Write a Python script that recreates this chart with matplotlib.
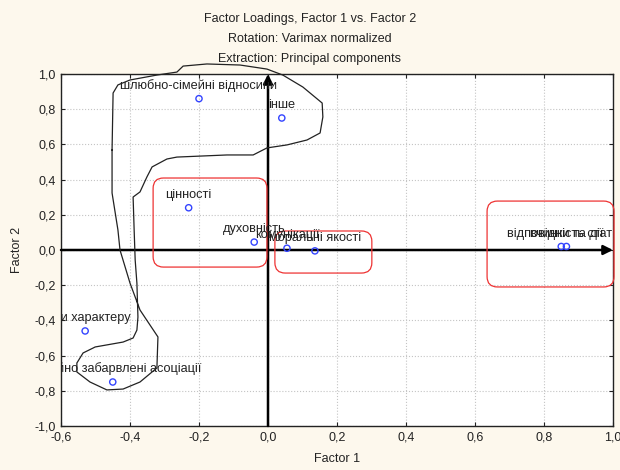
import matplotlib
matplotlib.use("Agg")
import matplotlib.pyplot as plt
from matplotlib.patches import FancyBboxPatch
from matplotlib.ticker import FuncFormatter, MultipleLocator

plt.rcParams["font.family"] = ["Liberation Sans", "DejaVu Sans"]

# factor loadings (Factor 1, Factor 2)
labels = [
    "шлюбно-сімейні відносини",
    "інше",
    "цінності",
    "духовність",
    "комунікації",
    "моральні якості",
    "відповідність статі",
    "вчинки та дії",
    "риси характеру",
    "емоційно забарвлені асоціації",
]
factor1 = [-0.20, 0.04, -0.23, -0.04, 0.055, 0.136, 0.85, 0.865, -0.53, -0.45]
factor2 = [0.86, 0.75, 0.24, 0.045, 0.01, -0.005, 0.02, 0.02, -0.46, -0.75]

# hand-drawn outline around the first group (data units)
lasso_x = [-0.452, -0.449, -0.435, -0.400, -0.322, -0.264, -0.246, -0.177, -0.081,
           -0.003, 0.043, 0.101, 0.157, 0.159, 0.151, 0.113, 0.055, -0.003,
           -0.043, -0.119, -0.264, -0.293, -0.336, -0.351, -0.371, -0.391, -0.388,
           -0.385, -0.380, -0.377, -0.380, -0.391, -0.420, -0.501, -0.507, -0.536,
           -0.554, -0.554, -0.516, -0.467, -0.420, -0.371, -0.322, -0.319, -0.371,
           -0.400, -0.429, -0.435, -0.452, -0.452]
lasso_y = [0.568, 0.892, 0.938, 0.966, 0.994, 1.011, 1.045, 1.057, 1.051, 1.028,
           0.994, 0.926, 0.835, 0.756, 0.665, 0.625, 0.597, 0.580, 0.540, 0.540,
           0.528, 0.517, 0.472, 0.415, 0.330, 0.301, 0.114, -0.057, -0.188, -0.381,
           -0.455, -0.500, -0.523, -0.551, -0.557, -0.585, -0.642, -0.693, -0.750,
           -0.795, -0.790, -0.750, -0.670, -0.494, -0.341, -0.188, 0.000, 0.114,
           0.324, 0.568]

# red rounded groups: (x0, y0, width, height)
groups = [
    (-0.333, -0.097, 0.330, 0.506),
    (0.020, -0.131, 0.281, 0.239),
    (0.635, -0.210, 0.368, 0.488),
]

fig = plt.figure(figsize=(6.2, 4.7), dpi=100, facecolor="#fdf8ed")
ax = fig.add_axes([61 / 620, 1 - 426 / 470, 552 / 620, 352 / 470])
ax.set_facecolor("white")
ax.set_xlim(-0.6, 1.0)
ax.set_ylim(-1.0, 1.0)
ax.xaxis.set_major_locator(MultipleLocator(0.2))
ax.yaxis.set_major_locator(MultipleLocator(0.2))
fmt = FuncFormatter(lambda v, p: f"{v:.1f}".replace(".", ",").replace("-0,0", "0,0"))
ax.xaxis.set_major_formatter(fmt)
ax.yaxis.set_major_formatter(fmt)
ax.tick_params(direction="in", length=3, width=0.8, labelsize=9, colors="#222222",
               pad=4, right=True, top=True)
ax.grid(True, color="#c4c4c4", linestyle=":", linewidth=0.8)
for s in ax.spines.values():
    s.set_color("#222222")
    s.set_linewidth(1.0)

# axes arrows
ax.annotate("", xy=(0, 1.0), xytext=(0, -1.0),
            arrowprops=dict(arrowstyle="-|>", color="black", lw=1.8, mutation_scale=14,
                            shrinkA=0, shrinkB=0), annotation_clip=False)
ax.annotate("", xy=(1.0, 0), xytext=(-0.6, 0),
            arrowprops=dict(arrowstyle="-|>", color="black", lw=1.8, mutation_scale=14,
                            shrinkA=0, shrinkB=0), annotation_clip=False)

ax.plot(lasso_x, lasso_y, color="#222222", lw=0.9, clip_on=False, zorder=4)

aspect = 345 / 176
for x0, y0, w, h in groups:
    ax.add_patch(FancyBboxPatch((x0, y0), w, h,
                                boxstyle="round,pad=0,rounding_size=0.03",
                                mutation_aspect=aspect, fill=False,
                                edgecolor="#ee3333", lw=0.9, clip_on=False, zorder=4))

ax.scatter(factor1, factor2, s=20, facecolors="none", edgecolors="#3344ff",
           linewidths=1.0, zorder=5)
for lab, x, y in zip(labels, factor1, factor2):
    t = ax.annotate(lab, (x, y), xytext=(0, 5), textcoords="offset points",
                    ha="center", va="bottom", fontsize=9.2, color="#222222",
                    zorder=6, clip_on=True)
    t.set_clip_box(ax.bbox)

fig.text(0.5, 1 - 19 / 470, "Factor Loadings, Factor 1 vs. Factor 2", ha="center",
         va="center", fontsize=9, color="#222222")
fig.text(0.5, 1 - 39 / 470, "Rotation: Varimax normalized", ha="center",
         va="center", fontsize=9, color="#222222")
fig.text(0.5, 1 - 59 / 470, "Extraction: Principal components", ha="center",
         va="center", fontsize=9, color="#222222")
ax.set_xlabel("Factor 1", fontsize=9, color="#222222", labelpad=7)
ax.set_ylabel("Factor 2", fontsize=9, color="#222222", labelpad=8)

fig.savefig("out.png", dpi=100, facecolor=fig.get_facecolor())
